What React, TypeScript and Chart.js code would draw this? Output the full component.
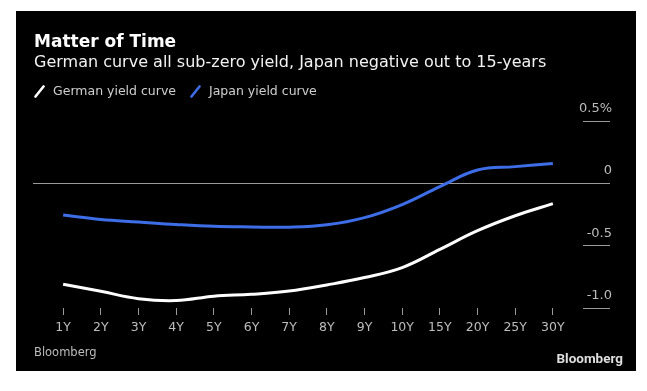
import React, { useEffect, useRef } from 'react';
import { Chart, registerables } from 'chart.js';

Chart.register(...registerables);

// ---- data ----
const categories = ['1Y', '2Y', '3Y', '4Y', '5Y', '6Y', '7Y', '8Y', '9Y', '10Y', '15Y', '20Y', '25Y', '30Y'];
const germanYield = [-0.81, -0.866, -0.925, -0.94, -0.905, -0.89, -0.864, -0.815, -0.756, -0.676, -0.53, -0.38, -0.26, -0.163];
const japanYield = [-0.254, -0.29, -0.31, -0.33, -0.345, -0.35, -0.352, -0.333, -0.275, -0.17, -0.026, 0.107, 0.134, 0.16];
const seriesNames = ['German yield curve', 'Japan yield curve'];
const yTickValues = [-1.0, -0.5, 0, 0.5];
const yTickLabels = ['-1.0', '-0.5', '0', '0.5%'];

const FONT = "'DejaVu Sans', 'Open Sans', sans-serif";
const WHITE = '#ffffff';
const BLUE = '#3d6ee8';
const GRID = '#9a9a9a';
const TICK_TEXT = '#bdbdbd';

export default function App() {
  const canvasRef = useRef<HTMLCanvasElement | null>(null);
  const legendRef = useRef<HTMLDivElement | null>(null);

  useEffect(() => {
    const canvas = canvasRef.current;
    if (!canvas) return;

    const htmlLegend = {
      id: 'htmlLegend',
      afterUpdate(chart: any) {
        const container = legendRef.current;
        if (!container) return;
        container.innerHTML = '';
        const items = chart.options.plugins.legend.labels.generateLabels(chart);
        items.forEach((item: any) => {
          const wrap = document.createElement('span');
          wrap.style.display = 'inline-flex';
          wrap.style.alignItems = 'center';
          wrap.style.marginRight = '14px';
          const svgNS = 'http://www.w3.org/2000/svg';
          const svg = document.createElementNS(svgNS, 'svg');
          svg.setAttribute('width', '11');
          svg.setAttribute('height', '13');
          const line = document.createElementNS(svgNS, 'line');
          line.setAttribute('x1', '1.5');
          line.setAttribute('y1', '11.5');
          line.setAttribute('x2', '9.5');
          line.setAttribute('y2', '1.5');
          line.setAttribute('stroke', item.strokeStyle);
          line.setAttribute('stroke-width', '2.6');
          line.setAttribute('stroke-linecap', 'round');
          svg.appendChild(line);
          svg.style.marginRight = '8px';
          const text = document.createElement('span');
          text.textContent = item.text;
          wrap.appendChild(svg);
          wrap.appendChild(text);
          container.appendChild(wrap);
        });
      },
    };

    const chart = new Chart(canvas, {
      type: 'line',
      data: {
        datasets: [
          {
            label: seriesNames[0],
            data: germanYield.map((v, i) => ({ x: i, y: v })),
            borderColor: WHITE,
            backgroundColor: WHITE,
            borderWidth: 3,
            pointRadius: 0,
            tension: 0.4,
            fill: false,
          },
          {
            label: seriesNames[1],
            data: japanYield.map((v, i) => ({ x: i, y: v })),
            borderColor: BLUE,
            backgroundColor: BLUE,
            borderWidth: 3,
            pointRadius: 0,
            tension: 0.4,
            fill: false,
          },
        ],
      },
      options: {
        responsive: false,
        animation: false,
        layout: { padding: { top: 110, left: 17, right: 24, bottom: 33 } },
        plugins: {
          legend: { display: false },
          tooltip: { enabled: false },
        },
        scales: {
          x: {
            type: 'linear',
            min: -0.8,
            max: 13.8,
            afterBuildTicks: (s: any) => {
              s.ticks = categories.map((_, i) => ({ value: i }));
            },
            afterFit: (s: any) => {
              s.height = 30;
            },
            ticks: {
              autoSkip: false,
              maxRotation: 0,
              padding: 5,
              color: TICK_TEXT,
              font: { family: FONT, size: 12.5 },
              callback: (v: any) => categories[v as number],
            },
            grid: {
              drawOnChartArea: false,
              drawTicks: true,
              tickLength: 7,
              color: GRID,
              lineWidth: 1,
            },
            border: { display: false },
          },
          y: {
            position: 'right',
            min: -1,
            max: 0.5,
            afterBuildTicks: (s: any) => {
              s.ticks = yTickValues.map((v) => ({ value: v }));
            },
            afterFit: (s: any) => {
              s.width = 29;
            },
            ticks: {
              mirror: true,
              crossAlign: 'near',
              padding: 29,
              labelOffset: -12.5,
              color: TICK_TEXT,
              font: { family: FONT, size: 13 },
              callback: (v: any) => yTickLabels[yTickValues.indexOf(v as number)],
            },
            grid: {
              drawTicks: true,
              tickLength: 27,
              tickColor: GRID,
              lineWidth: 1,
              color: (ctx: any) => (ctx.tick && ctx.tick.value === 0 ? GRID : 'rgba(0,0,0,0)'),
            },
            border: { display: false },
          },
        },
      } as any,
      plugins: [htmlLegend],
    });

    return () => chart.destroy();
  }, []);

  return (
    <div
      style={{
        position: 'absolute',
        left: 16,
        top: 11,
        width: 620,
        height: 360,
        background: '#000',
        fontFamily: FONT,
        overflow: 'hidden',
      }}
    >
      <canvas ref={canvasRef} width={620} height={360} style={{ position: 'absolute', left: 0, top: 0 }} />
      <div
        style={{
          position: 'absolute',
          left: 18,
          top: 21.6,
          fontSize: 17,
          lineHeight: '17px',
          fontWeight: 700,
          color: '#ffffff',
          whiteSpace: 'nowrap',
        }}
      >
        Matter of Time
      </div>
      <div
        style={{
          position: 'absolute',
          left: 18,
          top: 42.5,
          fontSize: 16,
          lineHeight: '16px',
          color: '#f2f2f2',
          whiteSpace: 'nowrap',
        }}
      >
        German curve all sub-zero yield, Japan negative out to 15-years
      </div>
      <div
        ref={legendRef}
        style={{
          position: 'absolute',
          left: 18,
          top: 74.2,
          fontSize: 12.5,
          lineHeight: '12.5px',
          color: '#cfcfcf',
          whiteSpace: 'nowrap',
          display: 'flex',
          alignItems: 'center',
        }}
      />
      <div
        style={{
          position: 'absolute',
          left: 18,
          top: 336.3,
          fontSize: 11.5,
          lineHeight: '11.5px',
          color: '#bdbdbd',
          whiteSpace: 'nowrap',
        }}
      >
        Bloomberg
      </div>
      <div
        style={{
          position: 'absolute',
          right: 13,
          top: 340.6,
          fontSize: 13.5,
          lineHeight: '13.5px',
          fontWeight: 700,
          fontFamily: "Roboto, 'Noto Sans', sans-serif",
          color: '#dedede',
          whiteSpace: 'nowrap',
        }}
      >
        Bloomberg
      </div>
    </div>
  );
}
